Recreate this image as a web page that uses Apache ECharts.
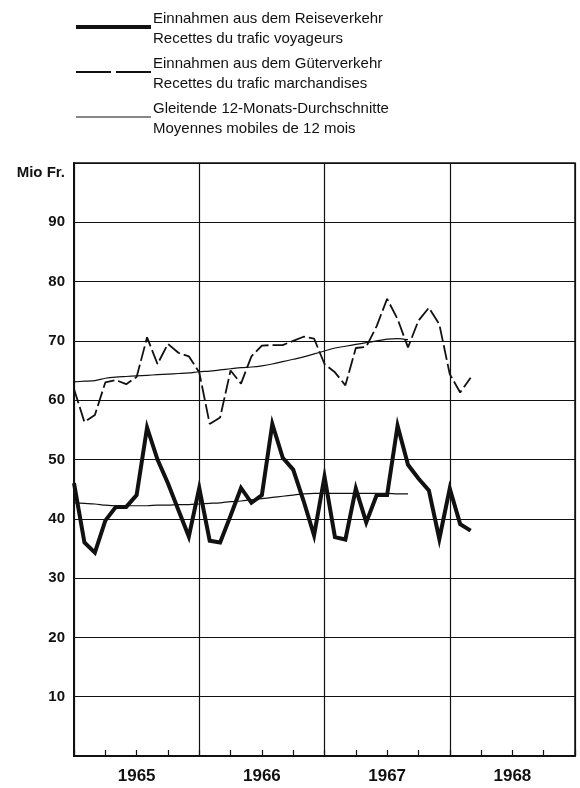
<!DOCTYPE html>
<html>
<head>
<meta charset="utf-8">
<script src="https://cdn.jsdelivr.net/npm/echarts@6/dist/echarts.min.js"></script>
<style>
  html, body { margin: 0; padding: 0; background: #fff; }
  #chart { width: 580px; height: 788px; }
</style>
</head>
<body>
<div id="chart"></div>
<script>
// monthly values, Jan 1965 = month 0
const years = [1965, 1966, 1967, 1968]
const reise = [46, 36, 34.3, 39.7, 42, 42, 44, 55.4, 50, 46, 41.5, 37,
  45.2, 36.3, 36, 40.5, 45.2, 42.7, 44, 56, 50.3, 48.3, 43, 37.2,
  47.1, 36.9, 36.5, 45.1, 39.4, 44, 44, 55.7, 49.1, 46.8, 44.8, 36.6,
  45.1, 39.1, 38]
const gueter = [61.9, 56.3, 57.5, 63, 63.4, 62.7, 63.9, 70.6, 66.1, 69.5, 68, 67.4,
  64.7, 56, 57.1, 65, 62.8, 67.4, 69.2, 69.3, 69.3, 70, 70.7, 70.4,
  66.1, 64.7, 62.5, 68.8, 69, 72.5, 77.1, 73.7, 68.9, 73.4, 75.6, 72.8,
  64.4, 61.3, 63.8]
const reiseAvg = [42.7, 42.6, 42.5, 42.3, 42.2, 42.2, 42.2, 42.2, 42.3, 42.3, 42.4, 42.4,
  42.5, 42.6, 42.7, 42.9, 43.0, 43.2, 43.4, 43.6, 43.8, 44.0, 44.2, 44.3,
  44.3, 44.3, 44.3, 44.3, 44.3, 44.3, 44.3, 44.2, 44.2]
const gueterAvg = [63.1, 63.2, 63.3, 63.7, 63.9, 64, 64.1, 64.2, 64.3, 64.4, 64.5, 64.6,
  64.8, 64.9, 65.1, 65.3, 65.5, 65.6, 65.8, 66.1, 66.5, 66.9, 67.3, 67.8,
  68.3, 68.8, 69.1, 69.4, 69.7, 70, 70.3, 70.4, 70.2]

const legendTexts = [
  'Einnahmen aus dem Reiseverkehr\nRecettes du trafic voyageurs',
  'Einnahmen aus dem Güterverkehr\nRecettes du trafic marchandises',
  'Gleitende 12-Monats-Durchschnitte\nMoyennes mobiles de 12 mois'
]

const toPairs = arr => arr.map((v, i) => [i, v])
const font = 'Liberation Sans, Arial, sans-serif'
const ink = '#111'

// legend drawn by hand so the dash pattern of the sample matches
const legendRows = [
  { y: 27, style: { stroke: ink, lineWidth: 4 } },
  { y: 72, style: { stroke: ink, lineWidth: 1.8, lineDash: [35, 5] } },
  { y: 117, style: { stroke: ink, lineWidth: 1.2 } }
]
const legendGraphic = []
legendRows.forEach((row, i) => {
  legendGraphic.push({
    type: 'line',
    shape: { x1: 76, y1: row.y, x2: 151, y2: row.y },
    style: row.style
  })
  legendGraphic.push({
    type: 'text',
    x: 153,
    y: row.y - 18,
    style: { text: legendTexts[i], font: '15px ' + font, lineHeight: 20, fill: ink }
  })
})

const chart = echarts.init(document.getElementById('chart'))
chart.setOption({
  animation: false,
  textStyle: { fontFamily: font, color: ink },
  grid: {
    left: 74, right: 5, top: 163, bottom: 32,
    show: true, borderColor: ink, borderWidth: 1.5
  },
  graphic: legendGraphic.concat([{
    type: 'text',
    right: 580 - 65,
    top: 165,
    style: { text: 'Mio Fr.', font: 'bold 15px ' + font, fill: ink }
  }]),
  xAxis: [{
    type: 'value',
    min: 0,
    max: 48,
    interval: 6,
    axisLine: { lineStyle: { color: ink, width: 2 } },
    axisTick: { inside: true, length: 6, lineStyle: { color: ink, width: 1.2 } },
    minorTick: { show: true, splitNumber: 2, length: 6, lineStyle: { color: ink, width: 1.2 } },
    splitLine: { show: false },
    axisLabel: {
      margin: 12,
      fontSize: 17,
      fontWeight: 'bold',
      color: ink,
      formatter: v => (v % 12 === 6 ? String(years[(v - 6) / 12]) : '')
    }
  }, {
    // year boundaries only
    type: 'value',
    min: 0,
    max: 48,
    interval: 12,
    position: 'bottom',
    axisLine: { show: false },
    axisTick: { show: false },
    axisLabel: { show: false },
    splitLine: { show: true, lineStyle: { color: ink, width: 1.2 } }
  }],
  yAxis: {
    type: 'value',
    min: 0,
    max: 100,
    interval: 10,
    axisLine: { show: true, lineStyle: { color: ink, width: 2 } },
    axisTick: { show: false },
    splitLine: { show: true, lineStyle: { color: ink, width: 1 } },
    axisLabel: {
      margin: 9,
      fontSize: 15,
      fontWeight: 'bold',
      color: ink,
      formatter: v => (v === 0 || v === 100 ? '' : String(v))
    }
  },
  series: [{
    name: 'Reiseverkehr',
    type: 'line',
    data: toPairs(reise),
    symbol: 'none',
    lineStyle: { width: 4, color: ink, join: 'miter' },
    z: 5
  }, {
    name: 'Güterverkehr',
    type: 'line',
    data: toPairs(gueter),
    symbol: 'none',
    lineStyle: { width: 1.8, color: ink, type: [15, 4] },
    z: 4
  }, {
    name: 'Durchschnitt Reiseverkehr',
    type: 'line',
    data: toPairs(reiseAvg),
    symbol: 'none',
    smooth: 0.3,
    lineStyle: { width: 1.2, color: ink },
    z: 3
  }, {
    name: 'Durchschnitt Güterverkehr',
    type: 'line',
    data: toPairs(gueterAvg),
    symbol: 'none',
    smooth: 0.3,
    lineStyle: { width: 1.2, color: ink },
    z: 3
  }]
})
</script>
</body>
</html>
